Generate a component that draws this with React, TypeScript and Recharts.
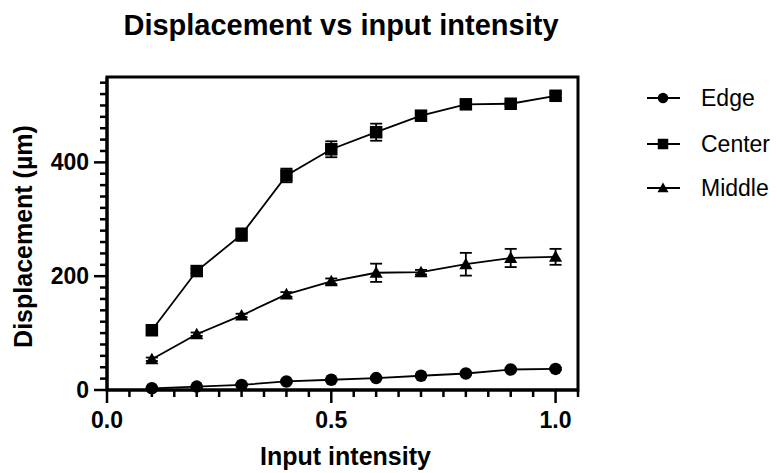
import React from 'react';
import { ComposedChart, Line, XAxis, YAxis, ErrorBar, Legend, ReferenceArea, Label } from 'recharts';

const FONT = '"Liberation Sans", Arial, Helvetica, sans-serif';

const intensity = [0.1, 0.2, 0.3, 0.4, 0.5, 0.6, 0.7, 0.8, 0.9, 1.0];
const edge = [3, 6, 9, 15, 18, 21, 25, 29, 36, 37];
const edgeErr = [1, 1, 1, 2, 2, 2, 2, 2, 2, 2];
const center = [105, 209, 273, 377, 423, 453, 482, 502, 503, 517];
const centerErr = [7, 4, 11, 12, 14, 15, 5, 4, 4, 4];
const middle = [54, 98, 131, 168, 191, 206, 207, 221, 232, 234];
const middleErr = [3, 3, 3, 4, 5, 16, 4, 20, 16, 14];

const xTicks = [0, 0.05, 0.1, 0.15, 0.2, 0.25, 0.3, 0.35, 0.4, 0.45, 0.5, 0.55, 0.6, 0.65, 0.7, 0.75, 0.8, 0.85, 0.9, 0.95, 1.0, 1.05];
const xMajor = [0, 0.5, 1.0];
const yTicks = [0, 20, 40, 60, 80, 100, 120, 140, 160, 180, 200, 220, 240, 260, 280, 300, 320, 340, 360, 380, 400, 420, 440, 460, 480, 500, 520, 540];
const yMajor = [0, 200, 400];

const seriesNames = ['Edge', 'Center', 'Middle'];
const seriesShapes: Record<string, string> = { Edge: 'circle', Center: 'square', Middle: 'triangle' };

const data = intensity.map((x, i) => ({
  x,
  edge: edge[i],
  edgeErr: edgeErr[i],
  center: center[i],
  centerErr: centerErr[i],
  middle: middle[i],
  middleErr: middleErr[i],
}));

const isMajor = (v: number, list: number[]) => list.some((m) => Math.abs(m - v) < 1e-9);

const XTick = (props: any) => {
  const { x, y, payload } = props;
  const major = isMajor(payload.value, xMajor);
  return (
    <g>
      <line x1={x} y1={y} x2={x} y2={y + (major ? 13 : 7)} stroke="#000" strokeWidth={2.5} />
      {major && (
        <text x={x} y={y + 38} textAnchor="middle" fontFamily={FONT} fontWeight="bold" fontSize={23} fill="#000">
          {Number(payload.value).toFixed(1)}
        </text>
      )}
    </g>
  );
};

const YTick = (props: any) => {
  const { x, y, payload } = props;
  const major = isMajor(payload.value, yMajor);
  return (
    <g>
      <line x1={x} y1={y} x2={x - (major ? 13 : 7)} y2={y} stroke="#000" strokeWidth={2.5} />
      {major && (
        <text x={x - 18} y={y + 8} textAnchor="end" fontFamily={FONT} fontWeight="bold" fontSize={23} fill="#000">
          {payload.value}
        </text>
      )}
    </g>
  );
};

const Marker = ({ shape, cx, cy, size }: { shape: string; cx: number; cy: number; size: number }) => {
  const h = size / 2;
  if (shape === 'square') return <rect x={cx - h} y={cy - h} width={size} height={size} fill="#000" />;
  if (shape === 'triangle')
    return <polygon points={`${cx},${cy - h * 1.05} ${cx - h * 1.05},${cy + h * 0.8} ${cx + h * 1.05},${cy + h * 0.8}`} fill="#000" />;
  return <circle cx={cx} cy={cy} r={h} fill="#000" />;
};

const makeDot = (shape: string) => (props: any) => {
  const { cx, cy, index } = props;
  if (cx == null || cy == null) return <g key={`d-${index}`} />;
  return (
    <g key={`d-${shape}-${index}`}>
      <Marker shape={shape} cx={cx} cy={cy} size={12.5} />
    </g>
  );
};

const renderLegend = (props: any) => {
  const payload = [...(props.payload || [])].sort(
    (a: any, b: any) => seriesNames.indexOf(a.value) - seriesNames.indexOf(b.value)
  );
  const rowY = [23, 69, 113];
  return (
    <svg width={137} height={130}>
      {payload.map((entry: any, i: number) => {
        const cy = rowY[i] ?? 23 + i * 45;
        const shape = seriesShapes[entry.value] || 'circle';
        return (
          <g key={entry.value}>
            <line x1={7} y1={cy} x2={40} y2={cy} stroke="#000" strokeWidth={2} />
            <Marker shape={shape} cx={23} cy={cy} size={10.5} />
            <text x={61} y={cy + 8} fontFamily={FONT} fontSize={23} fill="#000">
              {entry.value}
            </text>
          </g>
        );
      })}
    </svg>
  );
};

export default function App() {
  return (
    <div style={{ position: 'absolute', left: 0, top: 0, width: 777, height: 473, background: '#fff' }}>
      <div
        style={{
          position: 'absolute',
          left: 107,
          top: 9,
          width: 468,
          textAlign: 'center',
          fontFamily: FONT,
          fontWeight: 'bold',
          fontSize: 29,
          color: '#000',
          whiteSpace: 'nowrap',
        }}
      >
        Displacement vs input intensity
      </div>
      <ComposedChart width={777} height={473} data={data} margin={{ top: 77, right: 199, bottom: 0, left: 0 }}>
        <ReferenceArea x1={0} x2={1.05} y1={0} y2={550} fill="none" stroke="#000" strokeWidth={3} ifOverflow="visible" />
        <XAxis
          type="number"
          dataKey="x"
          domain={[0, 1.05]}
          ticks={xTicks}
          interval={0}
          tickSize={0}
          tickMargin={0}
          tickLine={false}
          tick={<XTick />}
          height={83}
          axisLine={{ stroke: '#000', strokeWidth: 3 }}
        >
          <Label
            content={(p: any) => {
              const vb = p.viewBox || {};
              return (
                <text x={vb.x + vb.width / 2 + 3} y={vb.y + vb.height - 8.5} textAnchor="middle" fontFamily={FONT} fontWeight="bold" fontSize={25} fill="#000">
                  Input intensity
                </text>
              );
            }}
          />
        </XAxis>
        <YAxis
          type="number"
          domain={[0, 550]}
          ticks={yTicks}
          interval={0}
          tickSize={0}
          tickMargin={0}
          tickLine={false}
          tick={<YTick />}
          width={107}
          axisLine={{ stroke: '#000', strokeWidth: 3 }}
        >
          <Label
            content={(p: any) => {
              const vb = p.viewBox || {};
              const cy = vb.y + vb.height / 2 + 3;
              return (
                <text x={32} y={cy} transform={`rotate(-90, 32, ${cy})`} textAnchor="middle" fontFamily={FONT} fontWeight="bold" fontSize={25} fill="#000">
                  Displacement (µm)
                </text>
              );
            }}
          />
        </YAxis>
        <Legend layout="vertical" align="center" verticalAlign="middle" wrapperStyle={{ left: 640, top: 75, width: 137, height: 130 }} content={renderLegend} />
        <Line type="linear" dataKey="edge" name={seriesNames[0]} stroke="#000" strokeWidth={1.8} dot={makeDot('circle')} activeDot={false} isAnimationActive={false}>
          <ErrorBar dataKey="edgeErr" width={6} strokeWidth={1.8} stroke="#000" direction="y" />
        </Line>
        <Line type="linear" dataKey="center" name={seriesNames[1]} stroke="#000" strokeWidth={1.8} dot={makeDot('square')} activeDot={false} isAnimationActive={false}>
          <ErrorBar dataKey="centerErr" width={6} strokeWidth={1.8} stroke="#000" direction="y" />
        </Line>
        <Line type="linear" dataKey="middle" name={seriesNames[2]} stroke="#000" strokeWidth={1.8} dot={makeDot('triangle')} activeDot={false} isAnimationActive={false}>
          <ErrorBar dataKey="middleErr" width={6} strokeWidth={1.8} stroke="#000" direction="y" />
        </Line>
      </ComposedChart>
    </div>
  );
}
